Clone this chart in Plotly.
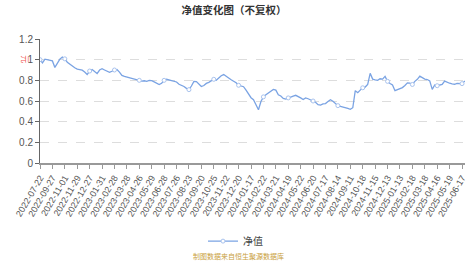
import numpy as np
import pandas as pd
import plotly.graph_objects as go

# Tick labels shown on the x axis (every 5th category)
tick_labels = [
    "2022-07-22", "2022-09-27", "2022-11-01", "2022-11-29", "2022-12-27",
    "2023-01-31", "2023-02-28", "2023-03-28", "2023-04-26", "2023-05-29",
    "2023-06-28", "2023-07-26", "2023-08-23", "2023-09-20", "2023-10-25",
    "2023-11-22", "2023-12-20", "2024-01-17", "2024-02-22", "2024-03-21",
    "2024-04-19", "2024-05-22", "2024-06-20", "2024-07-17", "2024-08-14",
    "2024-09-11", "2024-10-18", "2024-11-15", "2024-12-13", "2025-01-13",
    "2025-02-18", "2025-03-18", "2025-04-16", "2025-05-19", "2025-06-17",
    "2025-07-15",
]

# Net value (yuan)
nav = [
    1.000, 0.968, 1.005, 1.000, 0.995, 0.988, 0.925, 0.962, 1.005, 1.025,
    1.008, 0.975, 0.955, 0.942, 0.922, 0.908, 0.903, 0.898, 0.880, 0.856,
    0.890, 0.905, 0.885, 0.866, 0.900, 0.912, 0.900, 0.890, 0.877, 0.888,
    0.900, 0.905, 0.880, 0.848, 0.838, 0.832, 0.824, 0.822, 0.812, 0.806,
    0.800, 0.792, 0.796, 0.790, 0.800, 0.797, 0.785, 0.772, 0.760, 0.772,
    0.800, 0.810, 0.805, 0.800, 0.795, 0.784, 0.762, 0.752, 0.740, 0.722,
    0.710, 0.745, 0.790, 0.788, 0.760, 0.740, 0.750, 0.770, 0.780, 0.795,
    0.810, 0.800, 0.825, 0.845, 0.856, 0.842, 0.822, 0.805, 0.790, 0.776,
    0.752, 0.745, 0.738, 0.705, 0.665, 0.632, 0.612, 0.570, 0.515, 0.595,
    0.640, 0.660, 0.678, 0.695, 0.712, 0.705, 0.660, 0.648, 0.625, 0.618,
    0.630, 0.640, 0.648, 0.655, 0.645, 0.630, 0.615, 0.630, 0.622, 0.610,
    0.600, 0.588, 0.565, 0.560, 0.572, 0.575, 0.595, 0.612, 0.598, 0.572,
    0.555, 0.548, 0.543, 0.537, 0.528, 0.520, 0.535, 0.700, 0.680, 0.705,
    0.728, 0.735, 0.760, 0.868, 0.812, 0.805, 0.800, 0.815, 0.812, 0.838,
    0.790, 0.770, 0.755, 0.700, 0.708, 0.720, 0.730, 0.750, 0.775, 0.772,
    0.760, 0.790, 0.810, 0.840, 0.825, 0.812, 0.808, 0.795, 0.712, 0.755,
    0.748, 0.752, 0.760, 0.792, 0.778, 0.772, 0.765, 0.762, 0.770, 0.772,
    0.768, 0.790, 0.795, 0.798, 0.792, 0.800,
]

STEP = 5  # categories between labelled ticks

# Category dates: labelled dates plus business days picked between them
dates = []
for a, b in zip(tick_labels[:-1], tick_labels[1:]):
    days = pd.bdate_range(a, b)
    idx = np.linspace(0, len(days) - 1, STEP + 1).round().astype(int)[:-1]
    dates.extend(d.strftime("%Y-%m-%d") for d in days[idx])
dates.append(tick_labels[-1])

FONT = "Liberation Sans, Arial, Noto Sans CJK SC, sans-serif"
CJK = "Noto Sans CJK SC, sans-serif"
LINE = "#7aa3e3"

fig = go.Figure()
fig.add_trace(go.Scatter(
    x=dates, y=nav, mode="lines+markers", name="净值",
    line=dict(color=LINE, width=1.3),
    marker=dict(symbol="circle", size=4, color="white",
                line=dict(color="#a9c3ee", width=1), maxdisplayed=18),
))

fig.update_layout(
    width=468, height=264,
    margin=dict(l=40, r=0, t=39, b=101),
    paper_bgcolor="white", plot_bgcolor="white",
    font=dict(family=FONT, size=10, color="#555"),
    title=dict(text="<b>净值变化图（不复权）</b>", x=0.5, xanchor="center",
               y=1 - 10 / 264, yanchor="middle",
               font=dict(family=CJK, size=10.5, color="#333")),
    showlegend=True,
    legend=dict(orientation="h", x=0.46, xanchor="center", y=-0.63, yanchor="middle",
                font=dict(family=CJK, size=10, color="#444"),
                bgcolor="rgba(0,0,0,0)"),
    xaxis=dict(
        type="category", range=[0, 171.2],
        tickmode="array", tickvals=tick_labels, ticktext=tick_labels,
        tickangle=-60, tickfont=dict(size=9, color="#555"),
        ticks="outside", ticklen=4, tickcolor="#999",
        showline=True, linecolor="#999", linewidth=2,
        showgrid=False, zeroline=False,
    ),
    yaxis=dict(
        range=[0, 1.2], dtick=0.2, tickformat="~g",
        tickfont=dict(size=10, color="#555"),
        ticks="outside", ticklen=4, tickcolor="#666",
        showline=True, linecolor="#666", linewidth=1,
        showgrid=True, gridcolor="#dddddd", griddash="dash", gridwidth=1,
        zeroline=False,
    ),
    annotations=[
        dict(text="元", x=-0.051, y=0.887, xref="paper", yref="paper",
             showarrow=False, textangle=90,
             font=dict(family=CJK, size=8, color="#f05050")),
        dict(text="制图数据来自恒生聚源数据库", x=0.467, y=-0.75, xref="paper", yref="paper",
             showarrow=False, xanchor="center", yanchor="middle",
             font=dict(family=CJK, size=7, color="#c9a040")),
    ],
)

fig.write_html("out.html")
